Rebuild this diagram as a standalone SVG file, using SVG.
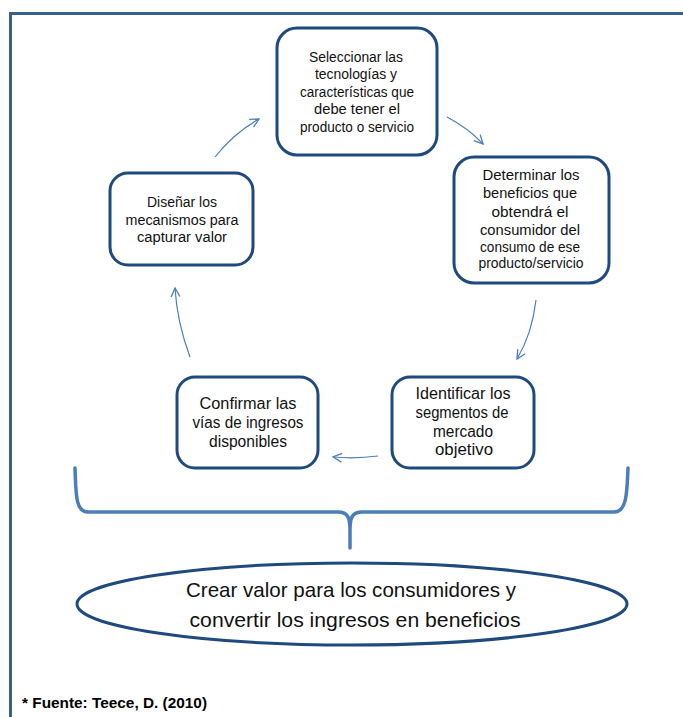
<svg xmlns="http://www.w3.org/2000/svg" width="683" height="717" viewBox="0 0 683 717">
  <style>
    .frame { fill: none; stroke: #3B5F8E; stroke-width: 3; }
    .box { fill: #FFFFFF; stroke: #1F4A7E; stroke-width: 3; }
    .lbl { font-family: "Liberation Sans", Arial, sans-serif; font-size: 14px; fill: #111111; text-anchor: middle; }
    .lbl2 { font-family: "Liberation Sans", Arial, sans-serif; font-size: 16px; fill: #111111; text-anchor: middle; }
    .big { font-family: "Liberation Sans", Arial, sans-serif; font-size: 21px; fill: #111111; text-anchor: middle; }
    .note { font-family: "Liberation Sans", Arial, sans-serif; font-size: 14px; font-weight: bold; fill: #000000; }
    .flow { fill: none; stroke: #4A7EBB; stroke-width: 1.2; marker-end: url(#head); }
    .brace { fill: none; stroke: #4A7EBB; stroke-width: 3.5; stroke-linecap: round; stroke-linejoin: round; }
  </style>
  <defs>
    <marker id="head" viewBox="0 0 10 10" refX="9" refY="5" markerWidth="11" markerHeight="11" markerUnits="userSpaceOnUse" orient="auto">
      <path d="M1,1 L9,5 L1,9" fill="none" stroke="#4A7EBB" stroke-width="1.2"/>
    </marker>
  </defs>

  <rect width="683" height="717" fill="#FFFFFF"/>

  <!-- page frame: top and left rules -->
  <path class="frame" d="M10.5,717 L10.5,13.5 L683,13.5"/>

  <!-- cycle connectors -->
  <g id="connectors">
    <path class="flow" d="M215,157 Q234,133 259,119"/>
    <path class="flow" d="M447,117 Q468,128 483,144"/>
    <path class="flow" d="M536,300 Q532,334 517,359"/>
    <path class="flow" d="M378,456 Q356,459 333,457"/>
    <path class="flow" d="M190,357 Q177,322 175,288"/>
  </g>

  <g id="seleccionar">
    <rect class="box" x="277" y="28" width="160" height="127" rx="20"/>
    <text class="lbl" x="356" y="62" textLength="94" lengthAdjust="spacingAndGlyphs">Seleccionar las</text>
    <text class="lbl" x="356" y="79" textLength="82" lengthAdjust="spacingAndGlyphs">tecnologías y</text>
    <text class="lbl" x="357" y="97" textLength="114" lengthAdjust="spacingAndGlyphs">características que</text>
    <text class="lbl" x="357" y="114" textLength="86" lengthAdjust="spacingAndGlyphs">debe tener el</text>
    <text class="lbl" x="357" y="132" textLength="114" lengthAdjust="spacingAndGlyphs">producto o servicio</text>
  </g>

  <g id="determinar">
    <rect class="box" x="454" y="157" width="155" height="126" rx="20"/>
    <text class="lbl" x="531" y="180" textLength="97" lengthAdjust="spacingAndGlyphs">Determinar los</text>
    <text class="lbl" x="530" y="198" textLength="94" lengthAdjust="spacingAndGlyphs">beneficios que</text>
    <text class="lbl" x="530" y="217" textLength="77" lengthAdjust="spacingAndGlyphs">obtendrá el</text>
    <text class="lbl" x="530" y="235" textLength="100" lengthAdjust="spacingAndGlyphs">consumidor del</text>
    <text class="lbl" x="530" y="252" textLength="100" lengthAdjust="spacingAndGlyphs">consumo de ese</text>
    <text class="lbl" x="531" y="268" textLength="105" lengthAdjust="spacingAndGlyphs">producto/servicio</text>
  </g>

  <g id="disenar">
    <rect class="box" x="110" y="173" width="143" height="92" rx="18"/>
    <text class="lbl" x="182" y="207" textLength="70" lengthAdjust="spacingAndGlyphs">Diseñar los</text>
    <text class="lbl" x="182" y="225" textLength="113" lengthAdjust="spacingAndGlyphs">mecanismos para</text>
    <text class="lbl" x="182" y="242" textLength="90" lengthAdjust="spacingAndGlyphs">capturar valor</text>
  </g>

  <g id="confirmar">
    <rect class="box" x="177" y="377" width="141" height="91" rx="18"/>
    <text class="lbl2" x="248" y="409" textLength="97" lengthAdjust="spacingAndGlyphs">Confirmar las</text>
    <text class="lbl2" x="248" y="428" textLength="111" lengthAdjust="spacingAndGlyphs">vías de ingresos</text>
    <text class="lbl2" x="248" y="447" textLength="78" lengthAdjust="spacingAndGlyphs">disponibles</text>
  </g>

  <g id="identificar">
    <rect class="box" x="392" y="377" width="142" height="91" rx="18"/>
    <text class="lbl2" x="463" y="399" textLength="95" lengthAdjust="spacingAndGlyphs">Identificar los</text>
    <text class="lbl2" x="462" y="418" textLength="93" lengthAdjust="spacingAndGlyphs">segmentos de</text>
    <text class="lbl2" x="463" y="437" textLength="60" lengthAdjust="spacingAndGlyphs">mercado</text>
    <text class="lbl2" x="464" y="455" textLength="58" lengthAdjust="spacingAndGlyphs">objetivo</text>
  </g>

  <!-- brace gathering the cycle -->
  <path class="brace" d="M75,468 C76,492 75,512 88,512 L338,512 C348,512 350,518 350,530 L350,548 M350,530 C350,518 352,512 362,512 L614,512 C627,512 627,492 628,468"/>

  <g id="resultado">
    <ellipse cx="352" cy="604" rx="275" ry="41" fill="#FFFFFF" stroke="#1F4A7E" stroke-width="3"/>
    <text class="big" x="351" y="597" textLength="330" lengthAdjust="spacingAndGlyphs">Crear valor para los consumidores  y</text>
    <text class="big" x="355" y="627" textLength="331" lengthAdjust="spacingAndGlyphs">convertir los ingresos  en beneficios</text>
  </g>

  <text class="note" x="22" y="708" textLength="185" lengthAdjust="spacingAndGlyphs">* Fuente: Teece, D. (2010)</text>
</svg>
